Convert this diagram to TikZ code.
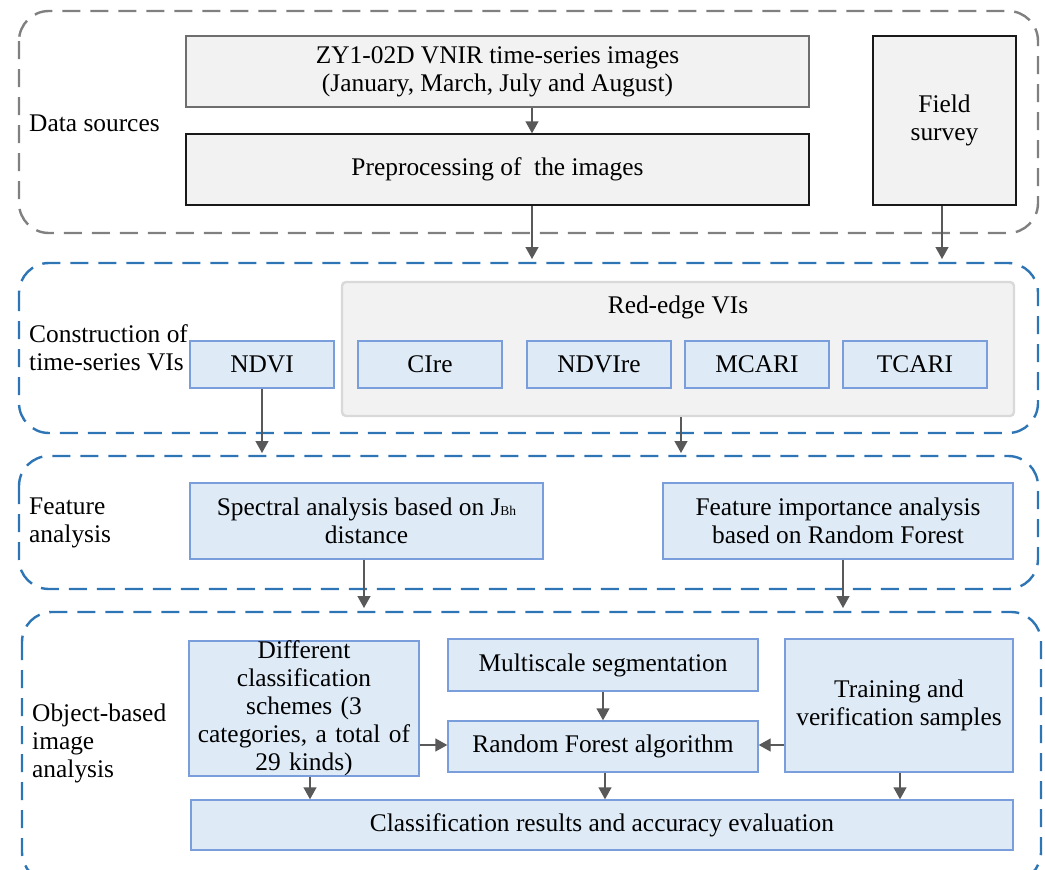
\documentclass[tikz,border=0pt]{standalone}
\usepackage{fontspec}
\setmainfont{Liberation Serif}
\usetikzlibrary{arrows.meta}
\definecolor{boxgray}{RGB}{242,242,242}
\definecolor{edgegray}{RGB}{110,110,110}
\definecolor{lightedge}{RGB}{217,217,217}
\definecolor{boxblue}{RGB}{222,235,247}
\definecolor{edgeblue}{RGB}{122,158,220}
\definecolor{dashblue}{RGB}{46,117,182}
\definecolor{dashgray}{RGB}{128,128,128}
\definecolor{arrowgray}{RGB}{89,89,89}
\tikzset{
  every node/.style={font=\fontsize{25.4}{28}\selectfont, inner sep=0pt, align=center},
  graybox/.style={draw=#1, fill=boxgray, line width=1.4pt},
  bluebox/.style={draw=edgeblue, fill=boxblue, line width=1.4pt},
  group/.style={draw=#1, line width=2.4pt, dash pattern=on 18pt off 10pt, rounded corners=30pt},
  flow/.style={draw=arrowgray, line width=1.4pt, -{Triangle[length=12pt,width=13pt]}},
  label/.style={anchor=west, align=left}
}
\begin{document}
\begin{tikzpicture}[x=1pt,y=-1pt]
\useasboundingbox (0,0) rectangle (1045,870);
\begin{scope}
\clip (0,0) rectangle (1045,870);

% group frames
\draw[group=dashgray] (19,11) rectangle (1038,233);
\draw[group=dashblue] (19,263) rectangle (1038,433);
\draw[group=dashblue] (19,456) rectangle (1038,589);
\draw[group=dashblue] (22,612) rectangle (1041,882);
\coordinate (g2top) at (0,259);
\coordinate (g3top) at (0,453);
\coordinate (g4top) at (0,608);

% group titles
\node[label] (lds) at (29,123) {Data sources};
\node[label] (lcv) at (29,348) {Construction of\\time-series VIs};
\node[label] (lfa) at (29,523) {Feature\\analysis};
\node[label] (lob) at (32,743) {Object-based\\image\\analysis};

% data sources
\node[graybox=edgegray, minimum width=623pt, minimum height=71pt] (zy) at (497.5,71.5)
  {ZY1-02D VNIR time-series images\\(January, March, July and August)};
\node[graybox=black!90, minimum width=623pt, minimum height=71pt] (prep) at (497.5,169.5)
  {Preprocessing of\ \ the images};
\node[graybox=black!90, minimum width=143pt, minimum height=169pt] (field) at (944.5,120.5)
  {Field\\survey};

% vegetation indices
\node[draw=lightedge, fill=boxgray, line width=2.4pt, rounded corners=4pt,
      minimum width=672pt, minimum height=134pt] (red) at (678,349) {};
\node[anchor=base] (redt) at (678,313) {Red-edge VIs};
\node[bluebox, minimum width=144pt, minimum height=47pt] (ndvi) at (262,364.5) {NDVI};
\node[bluebox, minimum width=144pt, minimum height=47pt] (cire) at (430,364.5) {CIre};
\node[bluebox, minimum width=144pt, minimum height=47pt] (ndvire) at (599,364.5) {NDVIre};
\node[bluebox, minimum width=144pt, minimum height=47pt] (mcari) at (757,364.5) {MCARI};
\node[bluebox, minimum width=144pt, minimum height=47pt] (tcari) at (915,364.5) {TCARI};

% feature analysis
\node[bluebox, minimum width=353pt, minimum height=76pt] (spec) at (366.5,521)
  {Spectral analysis based on J{\fontsize{13.5}{13.5}\selectfont Bh}\\distance};
\node[bluebox, minimum width=350pt, minimum height=76pt] (fimp) at (838,521)
  {Feature importance analysis\\based on Random Forest};

% object-based analysis
\node[bluebox, minimum width=230pt, minimum height=133pt, text width=224pt] (diff) at (304,708.5)
  {Different\\classification\\schemes (3\\categories, a total of\\29 kinds)};
\node[bluebox, minimum width=310pt, minimum height=52pt] (multi) at (603,665) {Multiscale segmentation};
\node[bluebox, minimum width=310pt, minimum height=51pt] (rf) at (603,746.5) {Random Forest algorithm};
\node[bluebox, minimum width=228pt, minimum height=133pt] (train) at (899,705.5)
  {Training and\\verification samples};
\node[bluebox, minimum width=822pt, minimum height=50pt] (res) at (602,825)
  {Classification results and accuracy evaluation};

% connectors
\draw[flow] ([xshift=34.5pt]zy.south) -- ([xshift=34.5pt]prep.north);
\draw[flow] ([xshift=34.5pt]prep.south) -- ([xshift=34.5pt]prep.south |- g2top);
\draw[flow] ([xshift=-2.5pt]field.south) -- ([xshift=-2.5pt]field.south |- g2top);
\draw[flow] (ndvi.south) -- (ndvi.south |- g3top);
\draw[flow] ([xshift=3pt]red.south) -- ([xshift=3pt]red.south |- g3top);
\draw[flow] ([xshift=-2.5pt]spec.south) -- ([xshift=-2.5pt]spec.south |- g4top);
\draw[flow] ([xshift=5pt]fimp.south) -- ([xshift=5pt]fimp.south |- g4top);
\draw[flow] (multi.south) -- (rf.north);
\draw[flow] (diff.east |- 0,745) -- (rf.west |- 0,745);
\draw[flow] (train.west |- 0,745) -- (rf.east |- 0,745);
\draw[flow] ([xshift=6pt]diff.south) -- ([xshift=6pt]diff.south |- res.north);
\draw[flow] ([xshift=2pt]rf.south) -- ([xshift=2pt]rf.south |- res.north);
\draw[flow] ([xshift=1pt]train.south) -- ([xshift=1pt]train.south |- res.north);
\end{scope}
\end{tikzpicture}
\end{document}
